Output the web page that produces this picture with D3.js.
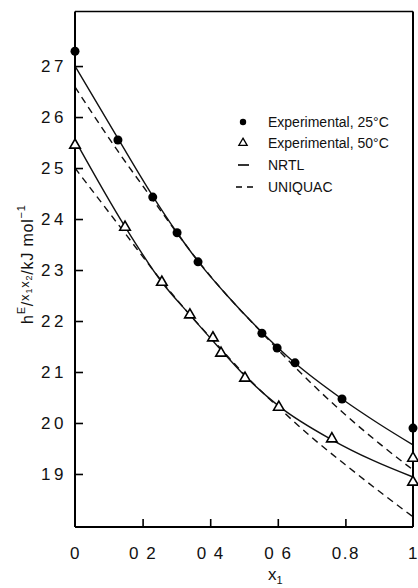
<!DOCTYPE html>
<html><head><meta charset="utf-8">
<script src="https://cdn.jsdelivr.net/npm/d3@7"></script>
<style>
html,body{margin:0;padding:0;background:#fff;}
svg{display:block;font-family:"Liberation Sans",Arial,sans-serif;}
</style></head>
<body>
<svg id="c" width="418" height="588"></svg>
<script>
// ---- data ----
const exp25X = [0, 0.127, 0.23, 0.302, 0.364, 0.553, 0.598, 0.651, 0.79, 1.0];
const exp25Y = [27.29, 25.55, 24.43, 23.73, 23.16, 21.76, 21.47, 21.18, 20.47, 19.90];
const exp50X = [0, 0.148, 0.257, 0.34, 0.408, 0.432, 0.503, 0.603, 0.76, 1.0, 1.0];
const exp50Y = [25.45, 23.84, 22.76, 22.12, 21.67, 21.37, 20.88, 20.31, 19.69, 19.31, 18.84];
const nrtl25X = [0, 0.127, 0.23, 0.30, 0.364, 0.45, 0.553, 0.65, 0.79, 0.9, 1.0];
const nrtl25Y = [27.0, 25.58, 24.45, 23.75, 23.17, 22.50, 21.78, 21.18, 20.47, 19.98, 19.57];
const uniq25X = [0, 0.127, 0.23, 0.30, 0.364, 0.45, 0.553, 0.65, 0.79, 0.9, 1.0];
const uniq25Y = [26.59, 25.33, 24.38, 23.74, 23.18, 22.50, 21.77, 21.10, 20.22, 19.60, 19.08];
const nrtl50X = [0, 0.148, 0.257, 0.34, 0.42, 0.503, 0.603, 0.76, 0.88, 1.0];
const nrtl50Y = [25.55, 23.85, 22.76, 22.12, 21.52, 20.92, 20.33, 19.67, 19.27, 18.94];
const uniq50X = [0, 0.148, 0.257, 0.34, 0.42, 0.503, 0.603, 0.70, 0.80, 0.9, 1.0];
const uniq50Y = [25.0, 23.72, 22.78, 22.12, 21.54, 20.94, 20.30, 19.72, 19.18, 18.66, 18.16];
const yTickValues = [19, 20, 21, 22, 23, 24, 25, 26, 27];
const xTickValues = [0, 0.2, 0.4, 0.6, 0.8, 1];
const xTickLabels = ["0", "0 2", "0 4", "0 6", "0.8", "1"];
const legendLabels = ["Experimental, 25\u00B0C", "Experimental, 50\u00B0C", "NRTL", "UNIQUAC"];

// ---- layout ----
const svg = d3.select("#c");
const L = 75, R = 413, T = 11.5, B = 527;
const x = d3.scaleLinear().domain([0, 1]).range([L, R]);
const y = d3.scaleLinear().domain([17.96, 28.07]).range([B, T]);

const zip = (a, b) => a.map((v, i) => [v, b[i]]);
const line = d3.line().x(d => x(d[0])).y(d => y(d[1])).curve(d3.curveMonotoneX);

// curves
const curves = [
  {d: zip(nrtl25X, nrtl25Y), dash: null},
  {d: zip(nrtl50X, nrtl50Y), dash: null},
  {d: zip(uniq25X, uniq25Y), dash: "7,5"},
  {d: zip(uniq50X, uniq50Y), dash: "7,5"}
];
svg.append("g").selectAll("path").data(curves).join("path")
  .attr("d", c => line(c.d))
  .attr("fill", "none").attr("stroke", "#111").attr("stroke-width", 1.4)
  .attr("stroke-dasharray", c => c.dash);

// frame
const g = svg.append("g").attr("stroke", "#000").attr("fill", "none");
g.append("line").attr("x1", L).attr("x2", R).attr("y1", T).attr("y2", T).attr("stroke-width", 1.5);
g.append("line").attr("x1", R).attr("x2", R).attr("y1", T).attr("y2", B).attr("stroke-width", 2);

// axes
const yAxis = d3.axisLeft(y).tickValues(yTickValues).tickSizeInner(-8).tickSizeOuter(0)
  .tickPadding(8).tickFormat(d3.format("d"));
const ya = svg.append("g").attr("transform", `translate(${L},0)`).call(yAxis);
ya.select(".domain").attr("stroke-width", 2).attr("d", `M0,${T}V${B}`);
ya.selectAll(".tick line").attr("stroke-width", 1.6);
ya.selectAll(".tick text").attr("font-size", 17).attr("letter-spacing", 3.5)
  .attr("font-family", "'Liberation Sans',Arial,sans-serif").attr("fill", "#111");

const xAxis = d3.axisBottom(x).tickValues(xTickValues).tickSizeInner(-8).tickSizeOuter(0)
  .tickPadding(20).tickFormat((d, i) => xTickLabels[i]);
const xa = svg.append("g").attr("transform", `translate(0,${B})`).call(xAxis);
xa.select(".domain").attr("stroke-width", 2).attr("d", `M${L},0H${R}`);
xa.selectAll(".tick line").attr("stroke-width", 1.6).attr("opacity", (d, i) => (i === 0 || i === 5) ? 0 : 1);
xa.selectAll(".tick text").attr("font-size", 17).attr("letter-spacing", 1.5)
  .attr("font-family", "'Liberation Sans',Arial,sans-serif").attr("fill", "#111");

// markers
svg.append("g").selectAll("circle").data(zip(exp25X, exp25Y)).join("circle")
  .attr("cx", d => x(d[0])).attr("cy", d => y(d[1])).attr("r", 4.5).attr("fill", "#000");
const tri = d3.symbol().type(d3.symbolTriangle).size(48);
svg.append("g").selectAll("path").data(zip(exp50X, exp50Y)).join("path")
  .attr("d", tri).attr("transform", d => `translate(${x(d[0])},${y(d[1])})`)
  .attr("fill", "#fff").attr("stroke", "#000").attr("stroke-width", 1.6);

// legend
const lg = svg.append("g").attr("font-size", 14).attr("fill", "#111");
const rowsY = [122, 143, 165, 187];
lg.append("circle").attr("cx", 243).attr("cy", rowsY[0]).attr("r", 3.2).attr("fill", "#000");
lg.append("path").attr("d", d3.symbol().type(d3.symbolTriangle).size(30))
  .attr("transform", `translate(243,${rowsY[1]})`).attr("fill", "#fff").attr("stroke", "#000").attr("stroke-width", 1.3);
lg.append("line").attr("x1", 238).attr("x2", 249).attr("y1", rowsY[2]).attr("y2", rowsY[2])
  .attr("stroke", "#000").attr("stroke-width", 1.6);
lg.append("line").attr("x1", 236).attr("x2", 255).attr("y1", rowsY[3]).attr("y2", rowsY[3])
  .attr("stroke", "#000").attr("stroke-width", 1.6).attr("stroke-dasharray", "6,5");
lg.selectAll("text").data(legendLabels).join("text")
  .attr("x", 268).attr("y", (d, i) => rowsY[i] + 5).text(d => d);

// axis titles
const xt = svg.append("text").attr("x", 268).attr("y", 580).attr("font-size", 17).attr("fill", "#111");
xt.append("tspan").text("x");
xt.append("tspan").attr("font-size", 11).attr("dy", 4).text("1");

const yt = svg.append("text").attr("transform", "translate(33,324) rotate(-90)")
  .attr("font-size", 16).attr("fill", "#111").attr("letter-spacing", 0.8);
yt.append("tspan").text("h");
yt.append("tspan").attr("font-size", 11).attr("dy", -8).text("E");
yt.append("tspan").attr("dy", 8).text("/");
yt.append("tspan").attr("font-size", 13).attr("dy", -4).text("x");
yt.append("tspan").attr("font-size", 9).attr("dy", 3).text("1");
yt.append("tspan").attr("font-size", 13).attr("dy", -3).text("x");
yt.append("tspan").attr("font-size", 9).attr("dy", 3).text("2");
yt.append("tspan").attr("dy", 1).text("/kJ mol");
yt.append("tspan").attr("font-size", 11).attr("dy", -8).text("\u22121");
</script>
</body></html>
